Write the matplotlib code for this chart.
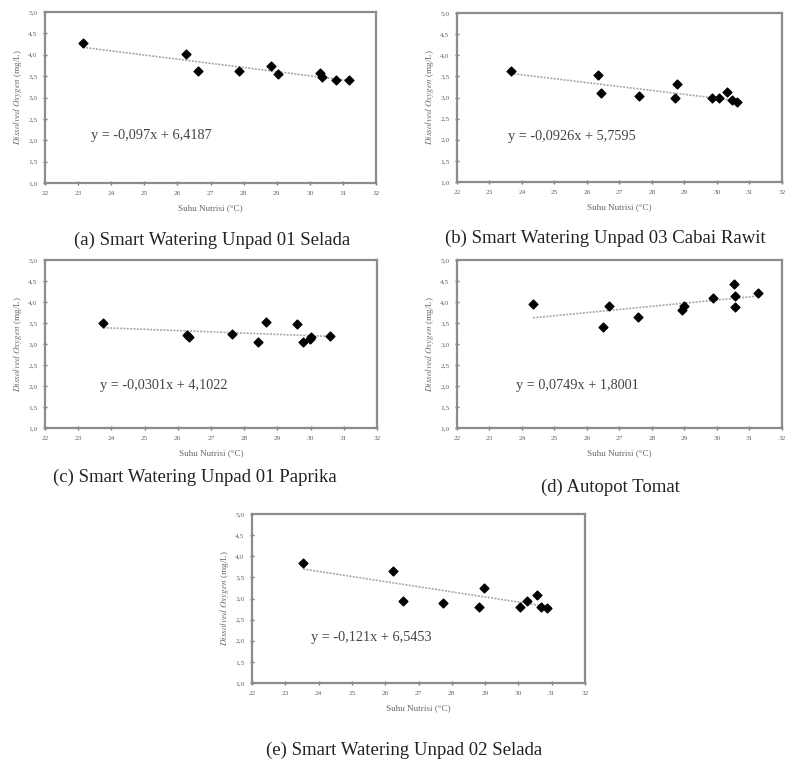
import numpy as np
import matplotlib
matplotlib.use("Agg")
import matplotlib.pyplot as plt
from matplotlib.ticker import FuncFormatter

plt.rcParams['font.family'] = ['Liberation Serif', 'DejaVu Serif']
plt.rcParams['mathtext.fontset'] = 'stix'

# (a) Smart Watering Unpad 01 Selada
suhu_a = [23.14, 26.25, 26.61, 27.87, 28.82, 29.03, 30.31, 30.36, 30.78, 31.19]
do_a = [4.27, 4.01, 3.62, 3.61, 3.74, 3.56, 3.57, 3.47, 3.40, 3.42]
# (b) Smart Watering Unpad 03 Cabai Rawit
suhu_b = [23.65, 26.34, 26.42, 27.59, 28.71, 28.78, 29.85, 30.05, 30.30, 30.45, 30.63]
do_b = [3.63, 3.54, 3.10, 3.04, 2.99, 3.32, 2.99, 3.00, 3.12, 2.94, 2.90]
# (c) Smart Watering Unpad 01 Paprika
suhu_c = [23.76, 26.27, 26.35, 27.63, 28.43, 28.66, 29.59, 29.77, 29.97, 30.01, 30.57]
do_c = [3.50, 3.22, 3.16, 3.24, 3.04, 3.53, 3.48, 3.04, 3.11, 3.16, 3.19]
# (d) Autopot Tomat
suhu_d = [24.34, 26.50, 26.69, 27.57, 28.91, 28.98, 29.88, 30.52, 30.55, 30.54, 31.26]
do_d = [3.95, 3.40, 3.90, 3.65, 3.82, 3.91, 4.09, 4.43, 4.15, 3.87, 4.22]
# (e) Smart Watering Unpad 02 Selada
suhu_e = [23.54, 26.23, 26.52, 27.75, 28.81, 28.97, 30.04, 30.25, 30.55, 30.69, 30.87]
do_e = [3.83, 3.64, 2.94, 2.90, 2.79, 3.26, 2.81, 2.95, 3.09, 2.80, 2.77]

slopes = [-0.097, -0.0926, -0.0301, 0.0749, -0.121]
intercepts = [6.4187, 5.7595, 4.1022, 1.8001, 6.5453]
equations = ["y = -0,097x + 6,4187", "y = -0,0926x + 5,7595", "y = -0,0301x + 4,1022",
             "y = 0,0749x + 1,8001", "y = -0,121x + 6,5453"]
captions = ["(a) Smart Watering Unpad 01 Selada", "(b) Smart Watering Unpad 03 Cabai Rawit",
            "(c) Smart Watering Unpad 01 Paprika", "(d) Autopot Tomat",
            "(e) Smart Watering Unpad 02 Selada"]

xticks = list(range(22, 33))
yticks = [1.0, 1.5, 2.0, 2.5, 3.0, 3.5, 4.0, 4.5, 5.0]

W, H = 788, 772
fig = plt.figure(figsize=(7.88, 7.72), dpi=100)


def px_axes(left, top, right, bottom):
    return fig.add_axes([left / W, 1 - bottom / H, (right - left) / W, (bottom - top) / H])


def panel(ax, x, y, slope, icpt, eq, eq_pos):
    x = np.array(x)
    ax.scatter(x, y, marker='D', s=20, color='black', zorder=3)
    xs = np.array([x.min(), x.max()])
    ax.plot(xs, slope * xs + icpt, linestyle=(0, (1.2, 0.8)), color='#a8a8a8', lw=1.2, zorder=2)
    ax.set_xlim(22, 32)
    ax.set_ylim(1, 5)
    ax.set_xticks(xticks)
    ax.set_yticks(yticks)
    ax.yaxis.set_major_formatter(FuncFormatter(lambda v, p: f"{v:.1f}".replace('.', ',')))
    ax.tick_params(direction='inout', length=3, width=1, color='#777777',
                   labelsize=5.3, labelcolor='#666666', pad=4)
    for s in ax.spines.values():
        s.set_color('#8c8c8c')
        s.set_linewidth(1.6)
    ax.set_xlabel("Suhu Nutrisi (°C)", fontsize=6.6, color='#666666', labelpad=6)
    ax.set_ylabel(r"$\it{Dissolved\ Oxygen}$ (mg/L)", fontsize=6.6, color='#666666', labelpad=3)
    ax.text(eq_pos[0], eq_pos[1], eq, transform=ax.transAxes, fontsize=10.3,
            color='#444444', va='center')


ax_a = px_axes(45, 12, 376, 183)
panel(ax_a, suhu_a, do_a, slopes[0], intercepts[0], equations[0], (0.14, 0.28))
ax_b = px_axes(457, 13, 782, 182)
panel(ax_b, suhu_b, do_b, slopes[1], intercepts[1], equations[1], (0.157, 0.27))
ax_c = px_axes(45, 260, 377, 428)
panel(ax_c, suhu_c, do_c, slopes[2], intercepts[2], equations[2], (0.166, 0.25))
ax_d = px_axes(457, 260, 782, 428)
panel(ax_d, suhu_d, do_d, slopes[3], intercepts[3], equations[3], (0.18, 0.255))
ax_e = px_axes(252, 514, 585, 683)
panel(ax_e, suhu_e, do_e, slopes[4], intercepts[4], equations[4], (0.176, 0.27))

cap_pos = [(212, 240), (605, 238), (195, 477), (610, 487), (404, 750)]
for cap, (cx, cy) in zip(captions, cap_pos):
    fig.text(cx / W, 1 - cy / H, cap, ha='center', va='center', fontsize=13.5, color='#222222')

fig.savefig("out.png", dpi=100)
